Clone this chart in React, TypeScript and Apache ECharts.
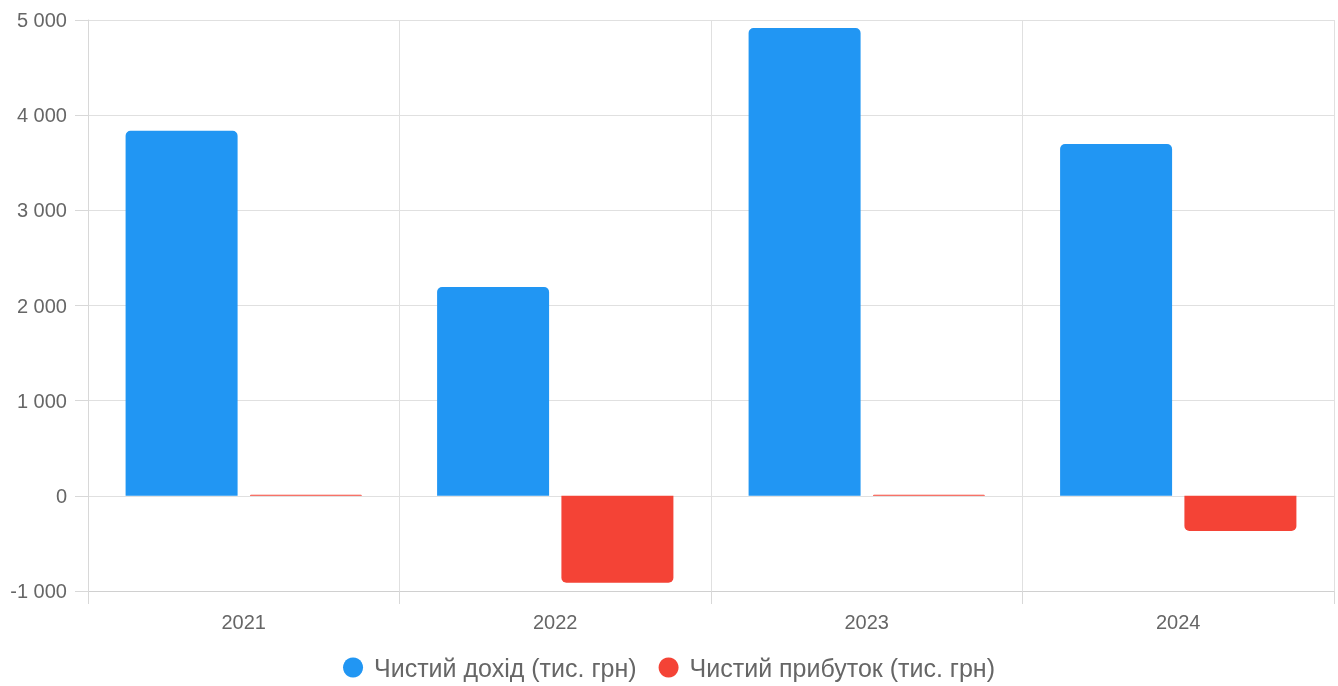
import React, { useEffect, useRef } from "react";
import * as echarts from "echarts";

const years = ["2021", "2022", "2023", "2024"];
const revenue = [3835, 2195, 4915, 3697];
const profit = [12, -912, 12, -370];
const seriesNames = ["Чистий дохід (тис. грн)", "Чистий прибуток (тис. грн)"];
const colors = ["#2196F3", "#F44336"];

const FONT = "'Liberation Sans', Arial, sans-serif";
const GRID = "#e0e0e0";

function fmt(v: number): string {
  const s = Math.abs(v).toString().replace(/\B(?=(\d{3})+(?!\d))/g, " ");
  return (v < 0 ? "-" : "") + s;
}

function bars(values: number[]) {
  return values.map((v) => ({
    value: v,
    itemStyle: { borderRadius: v >= 0 ? [5, 5, 0, 0] : [0, 0, 5, 5] },
  }));
}

export default function App() {
  const ref = useRef<HTMLDivElement>(null);
  useEffect(() => {
    document.body.style.margin = "0";
    const chart = echarts.init(ref.current!, undefined, { renderer: "svg" });
    chart.setOption({
      animation: false,
      textStyle: { fontFamily: FONT },
      grid: { left: 88, right: 4, top: 20, bottom: 95, containLabel: false },
      legend: {
        bottom: 1,
        left: "center",
        icon: "circle",
        itemWidth: 20,
        itemHeight: 20,
        itemGap: 22,
        textStyle: { fontSize: 25, color: "#666", fontFamily: FONT, padding: [0, 0, 0, 6] },
        data: seriesNames,
      },
      xAxis: {
        type: "category",
        data: years,
        axisLine: { show: true, onZero: false, lineStyle: { color: "#d0d0d0", width: 1 } },
        axisTick: { show: true, length: 13, lineStyle: { color: "#d8d8d8" } },
        axisLabel: { color: "#666", fontSize: 20, margin: 21, fontFamily: FONT },
        splitLine: { show: true, lineStyle: { color: GRID } },
      },
      yAxis: {
        type: "value",
        min: -1000,
        max: 5000,
        interval: 1000,
        axisLine: { show: true, lineStyle: { color: "#d8d8d8" } },
        axisTick: { show: true, length: 13, lineStyle: { color: "#d8d8d8" } },
        axisLabel: {
          color: "#666",
          fontSize: 20,
          margin: 21,
          fontFamily: FONT,
          formatter: (v: number) => fmt(v),
        },
        splitLine: { show: true, lineStyle: { color: GRID } },
      },
      series: [
        {
          name: seriesNames[0],
          type: "bar",
          data: bars(revenue),
          barWidth: 112,
          barGap: "11%",
          itemStyle: { color: colors[0] },
        },
        {
          name: seriesNames[1],
          type: "bar",
          data: bars(profit),
          barWidth: 112,
          itemStyle: { color: colors[1], opacity: 1 },
        },
      ],
    });
    return () => chart.dispose();
  }, []);
  return (
    <div
      ref={ref}
      style={{ position: "fixed", left: 0, top: 0, width: 1338, height: 686 }}
    />
  );
}
